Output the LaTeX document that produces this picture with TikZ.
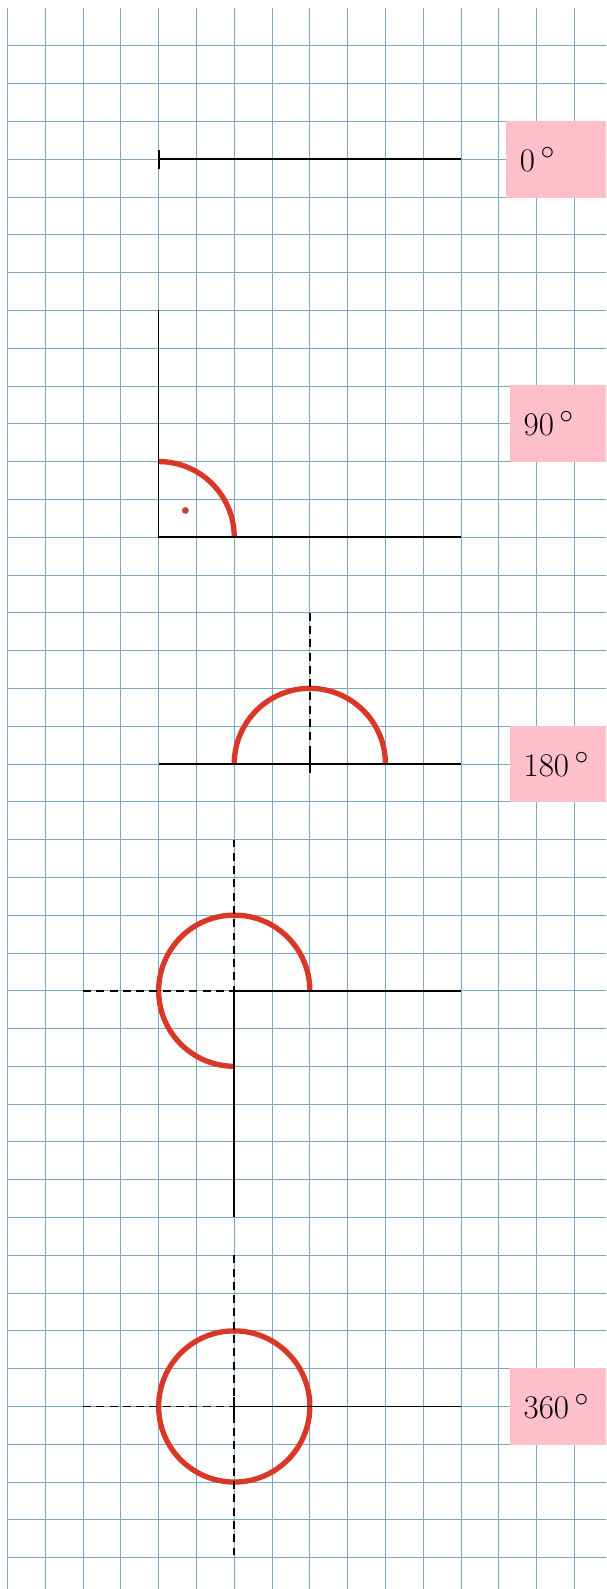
\documentclass[tikz,border=0pt]{standalone}
\usetikzlibrary{calc}
\definecolor{gridblue}{RGB}{128,165,192}
\definecolor{arcred}{RGB}{217,56,40}
\definecolor{dotred}{RGB}{180,72,50}
\definecolor{labelpink}{RGB}{255,192,203}
\begin{document}
\begin{tikzpicture}[
  gridline/.style={gridblue, line width=0.6pt},
  ray/.style={line width=1.2pt, black},
  helper/.style={line width=1.2pt, black, dash pattern=on 6pt off 4pt},
  anglearc/.style={line width=4pt, arcred},
  tickmark/.style={line width=1.5pt, black},
  labelbox/.style={fill=labelpink, anchor=west, minimum height=2.03cm,
    text width=2.6cm, inner xsep=0.36cm, align=left, font=\Huge}]
\useasboundingbox (-0.198,0.212) rectangle (15.836,-41.83);
\clip (-0.198,0.212) rectangle (15.836,-41.83);
% grid
\foreach \x in {0,...,15} \draw[gridline] (\x,0) -- (\x,-42);
\foreach \y in {1,...,41} \draw[gridline] (0,-\y) -- (16,-\y);

% 0 degrees
\coordinate (v0) at (4,-4);
\coordinate (e0) at (12,-4);
\coordinate (t0a) at (4,-3.75);
\coordinate (t0b) at (4,-4.25);
\draw[ray] (v0) -- (e0);
\draw[tickmark] (t0a) -- (t0b);
\node[labelbox] (l0) at (13.19,-4) {$0\,^{\circ}$};

% 90 degrees
\coordinate (v90) at (4,-14);
\coordinate (a90) at (4,-8);
\coordinate (b90) at (12,-14);
\draw[anglearc] (6,-14) arc[start angle=0, end angle=90, radius=2];
\fill[dotred] (v90) ++(45:1) circle (0.09);
\draw[ray] (a90) -- (v90) -- (b90);
\node[labelbox] (l90) at (13.29,-11) {$90\,^{\circ}$};

% 180 degrees
\coordinate (v180) at (8,-20);
\coordinate (a180) at (4,-20);
\coordinate (b180) at (12,-20);
\coordinate (h180) at (8,-16);
\coordinate (t180a) at (8,-19.75);
\coordinate (t180b) at (8,-20.25);
\draw[anglearc] (10,-20) arc[start angle=0, end angle=180, radius=2];
\draw[ray] (a180) -- (b180);
\draw[helper] (h180) -- (v180);
\draw[tickmark] (t180a) -- (t180b);
\node[labelbox] (l180) at (13.29,-20) {$180\,^{\circ}$};

% 270 degrees
\coordinate (v270) at (6,-26);
\coordinate (a270) at (12,-26);
\coordinate (b270) at (6,-32);
\coordinate (hx270) at (2,-26);
\coordinate (hy270) at (6,-22);
\draw[anglearc] (8,-26) arc[start angle=0, end angle=270, radius=2];
\draw[helper] (hx270) -- (v270);
\draw[helper] (hy270) -- (v270);
\draw[ray] (a270) -- (v270) -- (b270);

% 360 degrees
\coordinate (v360) at (6,-37);
\coordinate (a360) at (12,-37);
\coordinate (hx360) at (2,-37);
\coordinate (hy360a) at (6,-33);
\coordinate (hy360b) at (6,-41);
\coordinate (t360a) at (6,-36.75);
\coordinate (t360b) at (6,-37.25);
\draw[anglearc] (v360) circle (2);
\draw[helper] (hx360) -- (v360);
\draw[helper] (hy360a) -- (hy360b);
\draw[ray] (v360) -- (a360);
\draw[tickmark] (t360a) -- (t360b);
\node[labelbox] (l360) at (13.29,-37) {$360\,^{\circ}$};
\end{tikzpicture}
\end{document}
